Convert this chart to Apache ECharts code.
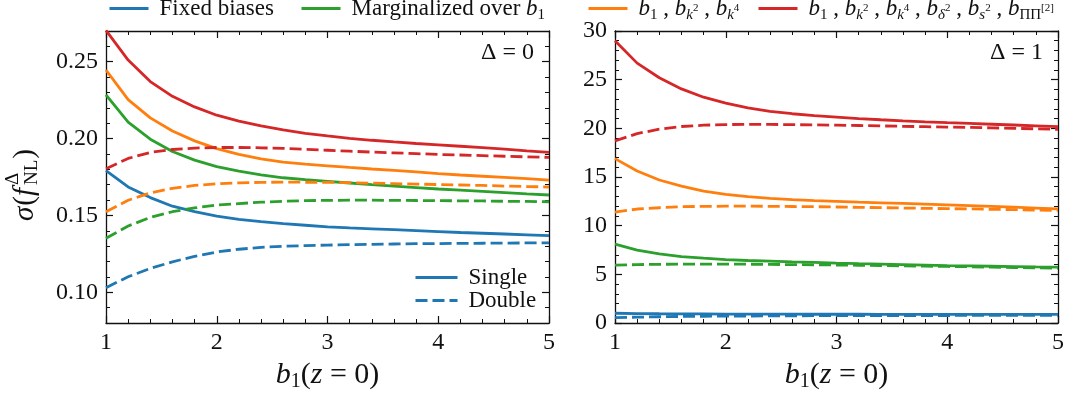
<!DOCTYPE html>
<html>
<head>
<meta charset="utf-8">
<script src="https://cdn.jsdelivr.net/npm/echarts@6/dist/echarts.min.js"></script>
<style>
html,body{margin:0;padding:0;background:#fff;}
#chart{width:1070px;height:397px;}
</style>
</head>
<body>
<div id="chart"></div>
<script>
// b1(z=0) sample points shared by every curve
const b1 = [1.0,1.2,1.4,1.6,1.8,2.0,2.2,2.4,2.6,2.8,3.0,3.2,3.4,3.6,3.8,4.0,4.2,4.4,4.6,4.8,5.0];

// Delta = 0 panel: sigma(f_NL) for single / double tracer
const fixedSingle0 = [0.1792,0.1685,0.1616,0.1560,0.1524,0.1496,0.1474,0.1459,0.1446,0.1436,0.1426,0.1419,0.1413,0.1407,0.1401,0.1395,0.1389,0.1384,0.1379,0.1374,0.1369];
const fixedDouble0 = [0.1030,0.1101,0.1155,0.1198,0.1234,0.1262,0.1280,0.1292,0.1299,0.1304,0.1307,0.1310,0.1312,0.1314,0.1316,0.1317,0.1318,0.1319,0.1320,0.1321,0.1321];
const margSingle0  = [0.2285,0.2107,0.1996,0.1916,0.1860,0.1818,0.1788,0.1764,0.1745,0.1733,0.1722,0.1711,0.1700,0.1690,0.1681,0.1672,0.1664,0.1656,0.1648,0.1640,0.1633];
const margDouble0  = [0.1352,0.1431,0.1487,0.1524,0.1549,0.1567,0.1577,0.1586,0.1592,0.1596,0.1598,0.1599,0.1599,0.1598,0.1597,0.1596,0.1595,0.1594,0.1592,0.1591,0.1589];
const bkSingle0    = [0.2446,0.2253,0.2135,0.2049,0.1985,0.1935,0.1897,0.1868,0.1847,0.1834,0.1823,0.1812,0.1802,0.1793,0.1784,0.1772,0.1763,0.1755,0.1747,0.1739,0.1730];
const bkDouble0    = [0.1524,0.1599,0.1646,0.1676,0.1695,0.1706,0.1712,0.1715,0.1717,0.1716,0.1715,0.1713,0.1710,0.1707,0.1704,0.1701,0.1698,0.1695,0.1691,0.1688,0.1685];
const allSingle0   = [0.2704,0.2511,0.2371,0.2275,0.2206,0.2152,0.2114,0.2082,0.2056,0.2034,0.2017,0.2002,0.1989,0.1978,0.1968,0.1959,0.1950,0.1941,0.1932,0.1920,0.1910];
const allDouble0   = [0.1803,0.1871,0.1910,0.1929,0.1938,0.1942,0.1942,0.1940,0.1936,0.1930,0.1924,0.1918,0.1912,0.1907,0.1902,0.1897,0.1893,0.1889,0.1885,0.1881,0.1878];

// Delta = 1 panel
const fixedSingle1 = [1.00,0.97,0.95,0.94,0.93,0.92,0.92,0.91,0.91,0.90,0.90,0.90,0.89,0.89,0.89,0.89,0.88,0.88,0.88,0.88,0.88];
const fixedDouble1 = [0.55,0.60,0.64,0.67,0.69,0.71,0.72,0.73,0.74,0.75,0.75,0.76,0.76,0.77,0.77,0.77,0.78,0.78,0.78,0.78,0.78];
const margSingle1  = [8.10,7.48,7.10,6.83,6.66,6.52,6.42,6.35,6.28,6.22,6.15,6.09,6.04,5.99,5.94,5.89,5.86,5.83,5.80,5.77,5.75];
const margDouble1  = [5.94,6.00,6.03,6.05,6.05,6.05,6.04,6.02,6.00,5.98,5.96,5.93,5.90,5.87,5.84,5.81,5.78,5.74,5.70,5.67,5.64];
const bkSingle1    = [16.89,15.62,14.69,14.07,13.56,13.22,12.98,12.80,12.67,12.58,12.50,12.42,12.35,12.28,12.21,12.14,12.06,11.98,11.90,11.81,11.72];
const bkDouble1    = [11.40,11.71,11.84,11.95,11.98,12.00,12.00,11.99,11.97,11.95,11.92,11.88,11.85,11.81,11.78,11.75,11.72,11.68,11.65,11.61,11.57];
const allSingle1   = [29.00,26.70,25.20,24.05,23.20,22.60,22.10,21.75,21.50,21.30,21.15,21.00,20.88,20.77,20.67,20.58,20.50,20.42,20.34,20.26,20.18];
const allDouble1   = [18.71,19.46,19.91,20.19,20.32,20.39,20.40,20.40,20.38,20.35,20.32,20.29,20.25,20.21,20.17,20.13,20.09,20.05,20.00,19.95,19.90];

// y tick values of the Delta = 0 panel
const yTicks0 = [0.10,0.15,0.20,0.25];

const FONT = '"Liberation Serif", "DejaVu Serif", serif';
const INK = '#111';
const COLORS = {fixed:'#1f77b4', marg:'#2ca02c', bk:'#ff7f0e', all:'#d62728'};

const LEGEND_TEXT = {
  fixed: '{n|Fixed biases}',
  marg:  '{n|Marginalized over }{i|b}{su|1}',
  bk:    '{i|b}{su|1}{n| , }{i|b}{s|k}{ss|2}{n| , }{i|b}{s|k}{ss|4}',
  all:   '{i|b}{su|1}{n| , }{i|b}{s|k}{ss|2}{n| , }{i|b}{s|k}{ss|4}{n| , }{i|b}{s|δ}{ss|2}{n| , }{i|b}{s|s}{ss|2}{n| , }{i|b}{su|ΠΠ}{ss|[2]}'
};

const RICH = {
  n:  {fontFamily:FONT, fontSize:23, lineHeight:28, color:INK},
  i:  {fontFamily:FONT, fontSize:23, lineHeight:28, fontStyle:'italic', color:INK},
  s:  {fontFamily:FONT, fontSize:15, lineHeight:15, fontStyle:'italic', verticalAlign:'bottom', color:INK},
  su: {fontFamily:FONT, fontSize:15, lineHeight:15, verticalAlign:'bottom', color:INK},
  ss: {fontFamily:FONT, fontSize:11, lineHeight:11, verticalAlign:'middle', color:INK}
};

function curve(name, xi, yi, vals, color, dashed) {
  return {
    type:'line', name:name, xAxisIndex:xi, yAxisIndex:yi,
    data: b1.map((x, k) => [x, vals[k]]),
    symbol:'none', showSymbol:false, smooth:false, clip:true, silent:true,
    lineStyle:{color:color, width:2.8, type: dashed ? [12,5] : 'solid', cap:'butt'},
    itemStyle:{color:color},
    emphasis:{disabled:true},
    z: dashed ? 3 : 2
  };
}

const series = [
  curve('fixed',0,0,fixedSingle0,COLORS.fixed,false),
  curve('fixed',0,0,fixedDouble0,COLORS.fixed,true),
  curve('marg',0,0,margSingle0,COLORS.marg,false),
  curve('marg',0,0,margDouble0,COLORS.marg,true),
  curve('bk',0,0,bkSingle0,COLORS.bk,false),
  curve('bk',0,0,bkDouble0,COLORS.bk,true),
  curve('all',0,0,allSingle0,COLORS.all,false),
  curve('all',0,0,allDouble0,COLORS.all,true),
  curve('fixed',2,4,fixedSingle1,COLORS.fixed,false),
  curve('fixed',2,4,fixedDouble1,COLORS.fixed,true),
  curve('marg',2,4,margSingle1,COLORS.marg,false),
  curve('marg',2,4,margDouble1,COLORS.marg,true),
  curve('bk',2,4,bkSingle1,COLORS.bk,false),
  curve('bk',2,4,bkDouble1,COLORS.bk,true),
  curve('all',2,4,allSingle1,COLORS.all,false),
  curve('all',2,4,allDouble1,COLORS.all,true),
  // line-style key (no data points)
  {type:'line', name:'Single', xAxisIndex:0, yAxisIndex:0, data:[], symbol:'none',
   lineStyle:{color:COLORS.fixed, width:2.8, type:'solid'}, itemStyle:{color:COLORS.fixed}},
  {type:'line', name:'Double', xAxisIndex:0, yAxisIndex:0, data:[], symbol:'none',
   lineStyle:{color:COLORS.fixed, width:2.8, type:[12,5]}, itemStyle:{color:COLORS.fixed}}
];

const axisLine = {show:true, onZero:false, lineStyle:{color:INK, width:1.3}};
const majorTick = {show:true, inside:true, length:7, lineStyle:{color:INK, width:1.2}};
const minorTick = {show:true, splitNumber:5, length:4, lineStyle:{color:INK, width:1}};
const tickLabel = {color:INK, fontFamily:FONT, fontSize:24};

const xName = '{i|b}{s|1}{n|(}{i|z}{n| = 0)}';
const xNameStyle = {
  rich:{
    n:{fontFamily:FONT, fontSize:30, lineHeight:34, color:INK},
    i:{fontFamily:FONT, fontSize:30, lineHeight:34, fontStyle:'italic', color:INK},
    s:{fontFamily:FONT, fontSize:20, lineHeight:20, verticalAlign:'bottom', color:INK}
  }
};

function xAxis(grid, pos, labels) {
  return {
    type:'value', gridIndex:grid, position:pos, min:1, max:5, interval:1,
    axisLine:axisLine, axisTick:majorTick, minorTick:minorTick,
    splitLine:{show:false}, minorSplitLine:{show:false},
    axisLabel: labels ? Object.assign({show:true, margin:8}, tickLabel) : {show:false},
    name: labels ? xName : '', nameLocation:'middle', nameGap:35, nameTextStyle:xNameStyle
  };
}

const xAxes = [xAxis(0,'bottom',true), xAxis(0,'top',false), xAxis(1,'bottom',true), xAxis(1,'top',false)];

function yMinor0(pos) {
  return {
    type:'value', gridIndex:0, position:pos, min:0.08, max:0.27, interval:0.01,
    axisLine:axisLine, axisTick:{show:true, inside:true, length:4, lineStyle:{color:INK, width:1}},
    axisLabel:{show:false}, splitLine:{show:false}
  };
}
function yMajor0(pos, labels) {
  return {
    type:'value', gridIndex:0, position:pos, min:0.08, max:0.27,
    axisLine:{show:false},
    axisTick:Object.assign({customValues:yTicks0}, majorTick),
    axisLabel: labels ? Object.assign({show:true, margin:8, customValues:yTicks0,
      formatter:v => v.toFixed(2)}, tickLabel) : {show:false},
    splitLine:{show:false}
  };
}
function y1(pos, labels) {
  return {
    type:'value', gridIndex:1, position:pos, min:0, max:30, interval:5,
    axisLine:axisLine, axisTick:majorTick, minorTick:minorTick,
    splitLine:{show:false}, minorSplitLine:{show:false},
    axisLabel: labels ? Object.assign({show:true, margin:8}, tickLabel) : {show:false}
  };
}

const yAxes = [yMinor0('left'), yMajor0('left', true), yMinor0('right'), yMajor0('right', false), y1('left', true), y1('right', false)];

// the key shows only the line, no marker
const hiddenMarker = {color:'rgba(0,0,0,0)', borderWidth:0, opacity:0};
const keyLine = {width:3};

// top legend: one component per entry so each key sits at its own spot
const legendLefts = {fixed:103, marg:295, bk:582, all:752};
const legends = Object.keys(legendLefts).map(k => ({
  data:[k], left:legendLefts[k], top:-8, itemWidth:39, itemHeight:18,
  selectedMode:false, itemStyle:hiddenMarker, lineStyle:keyLine,
  formatter: name => LEGEND_TEXT[name],
  textStyle:{rich:RICH, padding:[0,0,0,6]}
}));
legends.push({
  data:['Single','Double'], orient:'vertical', left:409, top:261,
  itemWidth:42, itemHeight:21, itemGap:0, selectedMode:false,
  itemStyle:hiddenMarker, lineStyle:keyLine,
  textStyle:{color:INK, fontFamily:FONT, fontSize:23, padding:[0,0,0,6]}
});

// y-axis title sigma(f^Delta_NL), stacked super/subscript, rotated
const ctx = document.createElement('canvas').getContext('2d');
function tw(font, s) { ctx.font = font; return ctx.measureText(s).width; }
const fMain = '29px "Liberation Serif"', fIt = 'italic 29px "Liberation Serif"', fSmall = '19px "Liberation Serif"';
const wSig = tw(fIt,'σ'), wPar = tw(fMain,'('), wF = tw(fIt,'f');
const wScr = Math.max(tw(fSmall,'Δ'), tw(fSmall,'NL'));
const wClose = tw(fMain,')');
const totalW = wSig + wPar + wF + 2 + wScr + 1 + wClose;
let cx = -totalW / 2;
function piece(text, font, x, y) {
  return {type:'text', x:x, y:y, style:{text:text, font:font, fill:INK, align:'left', verticalAlign:'middle'}};
}
const titleParts = [];
titleParts.push(piece('σ', fIt, cx, 0)); cx += wSig + 1;
titleParts.push(piece('(', fMain, cx, 0)); cx += wPar;
titleParts.push(piece('f', fIt, cx, 0)); cx += wF + 3;
titleParts.push(piece('Δ', fSmall, cx, -12));
titleParts.push(piece('NL', fSmall, cx, 7)); cx += wScr + 1;
titleParts.push(piece(')', fMain, cx, 0));

const chart = echarts.init(document.getElementById('chart'), null, {renderer:'canvas'});
chart.setOption({
  animation:false,
  backgroundColor:'#fff',
  grid:[
    {left:106, top:31, width:443, height:292, outerBoundsMode:'none'},
    {left:615, top:31, width:443, height:292, outerBoundsMode:'none'}
  ],
  xAxis:xAxes,
  yAxis:yAxes,
  legend:legends,
  series:series,
  graphic:[
    {type:'text', x:534, y:53, style:{text:'Δ = 0', font:'24px "Liberation Serif"', fill:INK, align:'right', verticalAlign:'middle'}},
    {type:'text', x:1043, y:53, style:{text:'Δ = 1', font:'24px "Liberation Serif"', fill:INK, align:'right', verticalAlign:'middle'}},
    {type:'group', x:25, y:186, rotation:Math.PI/2, children:titleParts}
  ]
});
</script>
</body>
</html>
